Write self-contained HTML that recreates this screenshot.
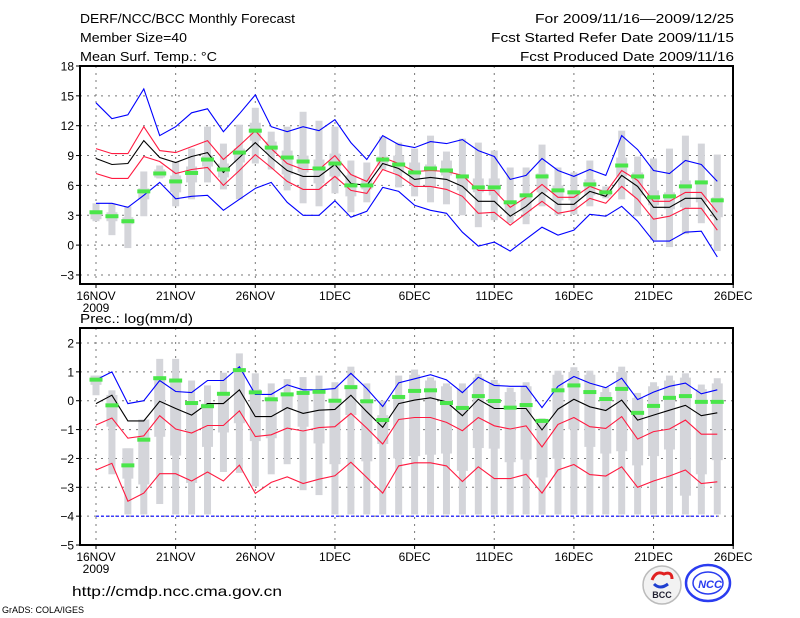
<!DOCTYPE html>
<html><head><meta charset="utf-8">
<style>
html,body{margin:0;padding:0;background:#fff;}
svg{display:block;}
text{font-family:"Liberation Sans",sans-serif;fill:#000;}
</style></head>
<body>
<svg id="chart" width="800" height="618" viewBox="0 0 800 618" xmlns="http://www.w3.org/2000/svg">
<rect x="0" y="0" width="800" height="618" fill="#fff"/>
<text x="80" y="23" font-size="13" textLength="215" lengthAdjust="spacingAndGlyphs">DERF/NCC/BCC Monthly Forecast</text>
<text x="80" y="42" font-size="13" textLength="107" lengthAdjust="spacingAndGlyphs">Member Size=40</text>
<text x="80" y="61" font-size="13" textLength="137" lengthAdjust="spacingAndGlyphs">Mean Surf. Temp.: °C</text>
<text x="734" y="23" font-size="13" text-anchor="end" textLength="199" lengthAdjust="spacingAndGlyphs">For 2009/11/16—2009/12/25</text>
<text x="734" y="42" font-size="13" text-anchor="end" textLength="243" lengthAdjust="spacingAndGlyphs">Fcst Started Refer Date 2009/11/15</text>
<text x="734" y="61" font-size="13" text-anchor="end" textLength="214" lengthAdjust="spacingAndGlyphs">Fcst Produced Date 2009/11/16</text>
<text x="80" y="323" font-size="13" textLength="113" lengthAdjust="spacingAndGlyphs">Prec.: log(mm/d)</text>
<text x="72" y="596" font-size="14" textLength="210" lengthAdjust="spacingAndGlyphs">http://cmdp.ncc.cma.gov.cn</text>
<text x="2" y="613" font-size="9.5" textLength="82" lengthAdjust="spacingAndGlyphs">GrADS: COLA/IGES</text>
<g>
  <circle cx="662" cy="585" r="19" fill="#f2f2f2" stroke="#bbb" stroke-width="1.5"/>
  <path d="M652 580 q4 -10 12 -6 q8 -3 8 5" fill="none" stroke="#e02020" stroke-width="3"/>
  <path d="M654 584 q6 6 14 0" fill="none" stroke="#1f3fd0" stroke-width="3"/>
  <text x="662" y="598" font-size="9" font-weight="bold" text-anchor="middle" style="fill:#223">BCC</text>
</g>
<g>
  <ellipse cx="708" cy="583" rx="22" ry="18" fill="none" stroke="#2a3cf0" stroke-width="2.5"/>
  <ellipse cx="708" cy="583" rx="15" ry="11" fill="none" stroke="#2a3cf0" stroke-width="1.5"/>
  <text x="710" y="588" font-size="11" font-weight="bold" font-style="italic" text-anchor="middle" style="fill:#2a3cf0">NCC</text>
</g>
<g id="plots"></g>
</svg>
<script>
// ---- Temperature panel data (days 16NOV..24DEC) ----
const xLabels = ["16NOV","21NOV","26NOV","1DEC","6DEC","11DEC","16DEC","21DEC","26DEC"];
const tTicks = [18,15,12,9,6,3,0,-3];
const pTicks = [2,1,0,-1,-2,-3,-4,-5];
const tUpperBlue = [14.3,12.7,13.1,15.7,11.0,11.9,13.3,13.7,11.4,13.2,15.1,11.9,11.4,11.9,11.5,12.6,10.3,8.6,11.0,10.1,9.8,10.4,10.2,10.6,9.5,8.9,6.6,7.0,8.7,7.5,6.9,7.6,7.0,11.0,9.6,7.5,7.2,8.5,8.1,6.4];
const tUpperRed = [9.7,9.2,9.2,11.9,9.5,9.3,9.9,10.5,8.6,10.0,11.5,9.7,8.2,7.6,7.6,9.0,7.1,6.4,8.8,8.2,7.4,7.5,7.4,7.0,5.5,5.5,3.8,4.8,6.1,4.8,4.8,5.9,5.3,7.5,6.5,4.4,4.4,5.3,5.3,3.3];
const tMean = [8.7,8.1,8.2,10.5,8.8,8.3,8.9,9.3,7.3,8.8,10.3,8.8,7.5,6.9,6.9,8.1,6.2,6.0,8.2,7.7,6.6,6.8,6.6,5.9,4.4,4.4,2.9,3.9,5.3,4.1,4.1,5.4,4.9,7.0,5.9,3.8,3.8,4.7,4.7,2.5];
const tLowerRed = [7.2,6.7,6.7,8.9,8.4,7.2,7.6,7.8,6.0,7.5,9.1,7.8,6.4,5.6,5.6,6.9,5.5,5.2,7.6,7.0,5.9,5.9,5.6,4.9,3.2,3.3,2.0,3.2,4.4,3.2,3.5,4.7,4.2,5.9,4.6,2.6,2.9,3.7,3.7,1.5];
const tLowerBlue = [4.2,4.2,3.8,5.0,6.3,4.65,4.9,5.0,3.5,4.6,5.7,6.3,4.3,3.0,3.0,4.45,2.8,3.4,5.8,5.4,4.0,3.5,3.2,1.3,-0.1,0.3,-0.6,0.6,1.8,1.0,1.5,3.1,2.9,3.9,2.4,0.4,0.4,1.3,1.4,-1.2];
const tGreen = [3.3,2.9,2.4,5.4,7.2,6.4,7.25,8.6,7.6,9.3,11.5,9.8,8.8,8.4,7.7,8.2,6.0,6.0,8.6,8.1,7.3,7.7,7.5,6.9,5.8,5.8,4.3,5.0,6.9,5.5,5.3,6.1,5.3,8.0,6.9,4.8,4.9,5.9,6.3,4.5];
const tMax = [4.2,4.2,3.9,7.4,8.0,8.4,9.7,11.9,10.2,12.1,13.8,11.4,11.9,13.4,12.5,11.9,8.5,8.3,10.9,10.3,9.7,11.0,9.4,10.7,10.3,9.5,7.8,7.8,10.1,7.8,7.3,8.5,5.9,11.5,8.9,8.7,9.7,11.0,10.2,9.1];
const tMin = [2.4,1.0,-0.3,2.9,6.7,3.9,4.6,6.3,5.6,4.6,8.2,7.6,5.5,4.2,3.9,5.2,3.3,4.3,7.6,5.8,4.9,4.3,4.1,3.0,1.8,2.5,2.2,2.1,3.9,3.0,3.1,3.9,4.7,4.6,2.9,0.5,-0.2,1.1,2.2,-0.6];
const tQ1 = [2.6,2.4,2.1,4.6,6.8,5.3,6.3,7.9,6.8,8.3,10.5,9.2,7.1,7.3,6.2,6.9,4.9,5.6,8.0,7.3,6.0,5.8,7.0,5.5,5.3,5.0,3.2,3.4,5.3,4.5,4.5,5.0,4.9,6.9,5.0,4.0,3.6,3.8,4.3,2.8];
const tQ3 = [3.4,3.3,2.8,5.7,7.6,7.0,7.9,9.0,8.2,9.7,12.3,10.4,9.5,9.0,8.6,9.2,7.0,6.6,8.9,9.0,8.3,8.1,8.5,7.0,6.7,6.7,4.4,5.0,7.2,6.0,5.5,6.6,5.6,8.8,7.3,5.5,5.3,6.5,6.5,4.8];
// ---- Precipitation panel data ----
const pUpperBlue = [0.72,1.0,-0.1,0.0,0.7,0.32,0.28,0.7,0.7,1.18,0.22,0.22,0.55,0.38,0.38,0.42,0.95,0.42,-0.2,0.62,0.76,0.9,0.72,0.28,0.81,0.53,0.5,0.5,-0.24,0.5,0.84,0.61,0.45,0.78,0.04,0.3,0.5,0.61,0.24,0.38];
const pMean = [-0.1,0.19,-0.7,-0.7,-0.02,-0.27,-0.5,-0.1,-0.1,0.38,-0.55,-0.55,-0.24,-0.44,-0.33,-0.3,0.19,-0.38,-0.92,-0.1,0.02,0.1,-0.04,-0.52,0.05,-0.27,-0.27,-0.27,-1.01,-0.29,0.05,-0.21,-0.34,0.02,-0.67,-0.5,-0.33,-0.16,-0.52,-0.42];
const pUpperRed = [-0.84,-0.6,-1.3,-1.22,-0.52,-0.98,-1.12,-0.86,-0.86,-0.35,-1.24,-1.18,-0.95,-1.05,-0.93,-0.9,-0.44,-0.95,-1.5,-0.65,-0.58,-0.58,-0.75,-1.04,-0.58,-0.87,-0.98,-0.87,-1.6,-0.82,-0.58,-0.9,-0.96,-0.55,-1.33,-1.07,-0.98,-0.67,-1.16,-1.16];
const pLowerRed = [-2.4,-2.17,-3.48,-3.2,-2.53,-2.53,-2.78,-2.47,-2.78,-2.23,-3.21,-2.83,-2.64,-2.87,-2.72,-2.6,-2.13,-2.66,-3.2,-2.26,-2.15,-2.15,-2.26,-2.8,-2.29,-2.7,-2.7,-2.55,-3.2,-2.4,-2.21,-2.56,-2.61,-2.29,-3.0,-2.78,-2.61,-2.4,-2.87,-2.81];
const pLowerBlue = [-4,-4,-4,-4,-4,-4,-4,-4,-4,-4,-4,-4,-4,-4,-4,-4,-4,-4,-4,-4,-4,-4,-4,-4,-4,-4,-4,-4,-4,-4,-4,-4,-4,-4,-4,-4,-4,-4,-4,-4];
const pGreen = [0.73,-0.16,-2.24,-1.35,0.78,0.7,-0.08,-0.19,0.24,1.06,0.29,0.05,0.22,0.27,0.31,0.0,0.47,-0.02,-0.67,0.13,0.34,0.36,-0.08,-0.25,0.16,-0.01,-0.24,-0.15,-0.7,0.36,0.53,0.3,0.06,0.41,-0.42,-0.18,0.1,0.16,-0.04,-0.04];
const pMax = [0.87,0.36,-1.65,-0.65,1.45,1.45,0.7,0.53,0.97,1.64,0.95,0.6,0.75,0.82,0.87,0.64,1.18,0.6,0.0,0.87,1.08,0.81,0.6,0.6,0.93,0.72,0.45,0.64,-0.61,1.04,1.16,1.04,0.47,1.18,0.27,0.64,0.87,0.95,0.56,0.78];
const pMin = [0.19,-2.55,-3.94,-3.94,-3.58,-3.94,-3.94,-3.94,-2.47,-2.5,-2.97,-2.55,-2.2,-3.1,-3.27,-3.94,-3.94,-3.94,-3.94,-3.94,-3.94,-3.94,-3.94,-3.94,-3.94,-3.94,-3.94,-3.94,-3.94,-3.94,-3.94,-3.94,-3.94,-3.94,-3.94,-3.94,-3.94,-3.94,-3.94,-3.94];
const pQ1 = [0.55,-0.9,-2.7,-2.9,-1.25,-1.9,-2.85,-1.6,-1.1,-0.78,-1.4,-1.3,-0.3,-0.9,-1.48,-2.2,-0.5,-2.1,-1.5,-2.0,-1.92,-1.87,-1.83,-2.43,-1.64,-1.66,-2.13,-2.04,-2.66,-2.01,-0.99,-1.6,-1.83,-1.75,-2.24,-1.92,-1.69,-3.29,-2.55,-2.06];
const pQ3 = [0.87,0.2,-1.65,-0.65,0.8,0.7,-0.1,-0.1,0.3,1.12,0.4,0.1,0.2,0.3,0.35,0.0,0.55,0.0,-0.5,0.2,0.9,0.7,0.5,0.4,0.8,0.6,0.3,0.5,-0.7,0.9,1.0,0.9,0.3,1.0,0.1,0.5,0.7,0.8,0.4,0.6];

const NS = "http://www.w3.org/2000/svg";
const root = document.getElementById("plots");
function mk(tag, attrs, parent) {
  const e = document.createElementNS(NS, tag);
  for (const k in attrs) e.setAttribute(k, attrs[k]);
  (parent || root).appendChild(e);
  return e;
}
const X0 = 80, X1 = 733;
function xDay(d) { return 96 + d * 15.93; }

function panel(cfg) {
  const g = mk("g", {});
  
  
  const y = cfg.y;
  // grid
  cfg.ticks.forEach(function (t) {
    const yy = y(t);
    if (yy > cfg.top + 1 && yy < cfg.bottom - 1) {
      const l = mk("line", {x1: X0, x2: X1, y1: yy, y2: yy, stroke: "#777", "stroke-width": 1, "stroke-dasharray": "2,5"}, g);
      
      
    }
    const tk = mk("line", {x1: X0 - 4, x2: X0, y1: yy, y2: yy, stroke: "#000", "stroke-width": 1}, g);
    
    
    const tx = mk("text", {x: X0 - 6, y: yy + 4.5, "font-size": 12, "text-anchor": "end"}, g);
    tx.textContent = (t < 0 ? "\u2212" + (-t) : String(t));
    
    
  });
  xLabels.forEach(function (lab, i) {
    const xx = xDay(i * 5);
    if (xx < X1 - 2) {
      const l = mk("line", {x1: xx, x2: xx, y1: cfg.top, y2: cfg.bottom, stroke: "#777", "stroke-width": 1, "stroke-dasharray": "2,5"}, g);
      
      
    }
    const tk = mk("line", {x1: xx, x2: xx, y1: cfg.bottom, y2: cfg.bottom + 4, stroke: "#000", "stroke-width": 1}, g);
    
    
    const tx = mk("text", {x: xx, y: cfg.bottom + 16, "font-size": 12, "text-anchor": "middle"}, g);
    tx.textContent = lab;
    
    
  });
  const yr = mk("text", {x: xDay(0), y: cfg.bottom + 28, "font-size": 12, "text-anchor": "middle"}, g);
  yr.textContent = "2009";
  
  
  // boxes
  for (let d = 0; d < cfg.min.length; d++) {
    const xx = xDay(d);
    const w = mk("rect", {x: xx - 3.5, y: y(cfg.max[d]), width: 7, height: Math.max(1, y(cfg.min[d]) - y(cfg.max[d])), fill: "#d4d5da"}, g);
    
    
    const b = mk("rect", {x: xx - 5.5, y: y(cfg.q3[d]), width: 11, height: Math.max(1, y(cfg.q1[d]) - y(cfg.q3[d])), fill: "#d4d5da"}, g);
    
    
  }
  // lines
  cfg.lines.forEach(function (s) {
    const pts = s.data.map(function (v, d) { return xDay(d).toFixed(1) + "," + y(v).toFixed(1); }).join(" ");
    const pl = mk("polyline", {points: pts, fill: "none", stroke: s.color, "stroke-width": 1.1}, g);
    if (s.dash) pl.setAttribute("stroke-dasharray", s.dash);
    
    
  });
  // green marks
  for (let d = 0; d < cfg.green.length; d++) {
    const r = mk("rect", {x: xDay(d) - 6.5, y: y(cfg.green[d]) - 2, width: 13, height: 4, fill: "#4ae64a"}, g);
    
    
  }
  // frame
  const f = mk("rect", {x: X0, y: cfg.top, width: X1 - X0, height: cfg.bottom - cfg.top, fill: "none", stroke: "#000", "stroke-width": 2}, g);
  
  
}

panel({
  name: "temperature-panel", top: 66, bottom: 284,
  y: function (v) { return 66 + (18 - v) * 9.95; },
  ticks: tTicks, min: tMin, max: tMax, q1: tQ1, q3: tQ3, green: tGreen,
  lines: [
    {name: "temp-upper-blue-line", data: tUpperBlue, color: "#0000ff"},
    {name: "temp-lower-blue-line", data: tLowerBlue, color: "#0000ff"},
    {name: "temp-upper-red-line", data: tUpperRed, color: "#ff1a40"},
    {name: "temp-lower-red-line", data: tLowerRed, color: "#ff1a40"},
    {name: "temp-mean-line", data: tMean, color: "#000"}
  ]
});
panel({
  name: "precipitation-panel", top: 328, bottom: 545,
  y: function (v) { return 343 + (2 - v) * 28.86; },
  ticks: pTicks, min: pMin, max: pMax, q1: pQ1, q3: pQ3, green: pGreen,
  lines: [
    {name: "prec-upper-blue-line", data: pUpperBlue, color: "#0000ff"},
    {name: "prec-lower-blue-line", data: pLowerBlue, color: "#0000ff", dash: "3,2"},
    {name: "prec-upper-red-line", data: pUpperRed, color: "#ff1a40"},
    {name: "prec-lower-red-line", data: pLowerRed, color: "#ff1a40"},
    {name: "prec-mean-line", data: pMean, color: "#000"}
  ]
});
</script>
</body></html>
